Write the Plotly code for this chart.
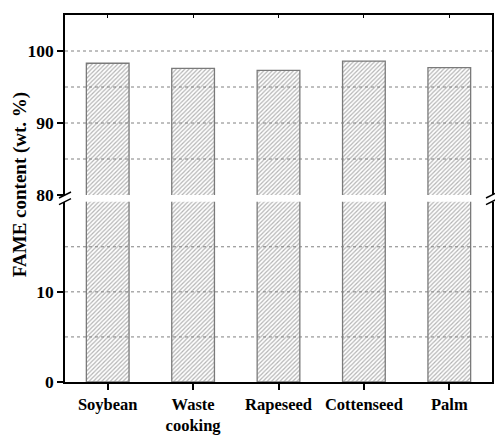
import plotly.graph_objects as go

categories = ["Soybean", "Waste<br>cooking", "Rapeseed", "Cottenseed", "Palm"]
fame_content = [98.3, 97.6, 97.3, 98.6, 97.7]

lower_range = [0, 20]
upper_range = [80, 105]
lower_ticks = [0, 10]
upper_ticks = [80, 90, 100]
lower_grid = [5, 10, 15]
upper_grid = [85, 90, 95, 100]

FONT = "Liberation Serif"
bar_style = dict(
    color="white",
    line=dict(color="#7a7a7a", width=1.3),
    pattern=dict(shape="/", size=3, solidity=0.4, fgcolor="#6a6a6a", bgcolor="white"),
)

fig = go.Figure()
fig.add_trace(go.Bar(x=categories, y=fame_content, width=0.5, marker=bar_style,
                     xaxis="x", yaxis="y", showlegend=False))
fig.add_trace(go.Bar(x=categories, y=fame_content, width=0.5, marker=bar_style,
                     xaxis="x2", yaxis="y2", showlegend=False))

H = 441
top, bottom = 15, 382
ph = bottom - top
low_dom = [0, (bottom - 201.7) / ph]
up_dom = [(bottom - 195) / ph, 1]

tickfont = dict(family=FONT, size=17.5, color="black", weight="bold")
axcommon = dict(showline=True, linecolor="black", linewidth=1.5, showgrid=False,
                zeroline=False, ticks="outside", ticklen=6, tickwidth=1.5,
                tickcolor="black", tickfont=tickfont, mirror=True)

fig.update_layout(
    width=495, height=H,
    margin=dict(l=65, r=1, t=top, b=H - bottom),
    plot_bgcolor="white", paper_bgcolor="white",
    xaxis=dict(anchor="y", range=[-0.5, 4.5], showline=True, linecolor="black",
               linewidth=1.5, ticks="outside", ticklen=6, tickwidth=1.5,
               tickcolor="black", showgrid=False,
               tickfont=dict(family=FONT, size=16.5, color="black", weight="bold")),
    xaxis2=dict(anchor="y2", matches="x", range=[-0.5, 4.5], side="top",
                showline=True, linecolor="black", linewidth=1.5, ticks="inside",
                ticklen=3, tickcolor="black", showticklabels=False, showgrid=False),
    yaxis=dict(domain=low_dom, range=lower_range, tickvals=lower_ticks, **axcommon),
    yaxis2=dict(domain=up_dom, range=upper_range, tickvals=upper_ticks, **axcommon),
)

shapes = []
for g in lower_grid:
    shapes.append(dict(type="line", xref="x domain", yref="y", x0=0, x1=1, y0=g, y1=g,
                       line=dict(color="#808080", width=1, dash="dot"), layer="above"))
for g in upper_grid:
    shapes.append(dict(type="line", xref="x domain", yref="y2", x0=0, x1=1, y0=g, y1=g,
                       line=dict(color="#808080", width=1, dash="dot"), layer="above"))

# axis break marks
for xa in (0, 1):
    for ya in (low_dom[1], up_dom[0]):
        shapes.append(dict(type="line", xref="paper", yref="paper",
                           xsizemode="pixel", ysizemode="pixel",
                           xanchor=xa, yanchor=ya,
                           x0=-6, x1=6, y0=-3, y1=3,
                           line=dict(color="black", width=1.5)))
fig.update_layout(shapes=shapes)

fig.add_annotation(text="<b>FAME content (wt. %)</b>", textangle=-90,
                   xref="paper", yref="paper", x=(20 - 65) / 429, y=(bottom - 185) / ph,
                   showarrow=False, font=dict(family=FONT, size=19, color="black"),
                   xanchor="center", yanchor="middle")

fig.write_html("out.html")
